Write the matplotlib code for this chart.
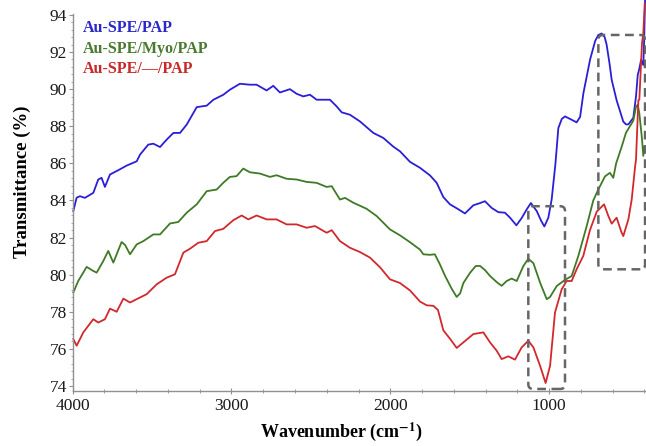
import matplotlib
matplotlib.use("Agg")
import matplotlib.pyplot as plt
import matplotlib.patches as mpatches
from matplotlib.ticker import MultipleLocator

plt.rcParams["font.family"] = ["Liberation Serif", "DejaVu Serif"]
plt.rcParams["mathtext.fontset"] = "stix"

# --- data (wavenumber cm-1, transmittance %) ---
blue_wn = [3996, 3975, 3954, 3923, 3870, 3839, 3818, 3797, 3765, 3713, 3660, 3597, 3576,
           3524, 3492, 3450, 3408, 3366, 3324, 3282, 3219, 3156, 3114, 3051, 3010, 2947,
           2884, 2842, 2779, 2737, 2695, 2632, 2590, 2548, 2506, 2464, 2380, 2338, 2306,
           2254, 2191, 2107, 2044, 1981, 1939, 1876, 1813, 1750, 1708, 1666, 1624, 1582,
           1530, 1477, 1435, 1404, 1362, 1320, 1278, 1246, 1206, 1173, 1141, 1115, 1078,
           1050, 1030, 1005, 984, 960, 942, 920, 900, 858, 827, 805, 784, 742, 710, 690,
           669, 650, 638, 620, 606, 575, 533, 516, 501, 470, 453, 442, 432, 421, 407, 402, 396]
blue_t = [83.43, 84.15, 84.23, 84.14, 84.41, 85.13, 85.22, 84.73, 85.40, 85.63, 85.88, 86.11, 86.47,
          87.01, 87.06, 86.88, 87.28, 87.64, 87.64, 88.09, 89.03, 89.11, 89.43, 89.70, 89.97, 90.29,
          90.24, 90.24, 89.93, 90.18, 89.82, 90.00, 89.75, 89.61, 89.70, 89.43, 89.43, 89.07, 88.75,
          88.62, 88.26, 87.64, 87.37, 86.90, 86.65, 86.08, 85.76, 85.35, 84.95, 84.18, 83.79, 83.58,
          83.30, 83.74, 83.86, 83.96, 83.60, 83.37, 83.34, 83.07, 82.66, 83.05, 83.52, 83.86, 83.43,
          82.90, 82.60, 83.07, 84.05, 86.00, 87.90, 88.40, 88.53, 88.35, 88.21, 88.50, 89.79, 91.60, 92.60, 92.92,
          93.00, 92.80, 92.40, 91.40, 90.50, 89.40, 88.25, 88.10, 88.10, 88.45, 89.60, 90.77, 91.10, 91.58, 91.30, 92.50, 94.80]

green_wn = [3996, 3965, 3912, 3870, 3849, 3807, 3776, 3744, 3692, 3670, 3639, 3597, 3555,
            3492, 3450, 3387, 3335, 3282, 3219, 3156, 3093, 3052, 3010, 2968, 2926, 2884,
            2821, 2758, 2716, 2653, 2590, 2527, 2464, 2401, 2369, 2317, 2285, 2233, 2149,
            2086, 2002, 1939, 1876, 1813, 1792, 1750, 1720, 1690, 1656, 1614, 1582, 1560,
            1540, 1498, 1462, 1435, 1404, 1372, 1330, 1299, 1267, 1236, 1204, 1162, 1131,
            1099, 1057, 1015, 994, 952, 900, 858, 816, 764, 722, 690, 648, 617, 596, 578,
            543, 516, 470, 453, 442, 432, 415, 407, 400]
green_t = [79.04, 79.66, 80.42, 80.20, 80.11, 80.74, 81.28, 80.65, 81.76, 81.60, 81.10, 81.63, 81.81,
           82.17, 82.17, 82.76, 82.84, 83.34, 83.79, 84.50, 84.59, 84.95, 85.27, 85.31, 85.72, 85.52,
           85.45, 85.27, 85.36, 85.17, 85.13, 85.00, 84.95, 84.73, 84.77, 84.05, 84.14, 83.88, 83.55,
           83.16, 82.44, 82.12, 81.75, 81.35, 81.10, 81.07, 81.10, 80.60, 79.95, 79.25, 78.80, 79.00,
           79.55, 80.10, 80.47, 80.47, 80.25, 79.93, 79.60, 79.40, 79.66, 79.79, 79.66, 80.47, 80.86,
           80.62, 79.57, 78.68, 78.80, 79.39, 79.72, 79.93, 81.01, 82.60, 84.00, 84.60, 85.30, 85.49, 85.22, 86.00,
           86.90, 87.65, 88.30, 89.05, 89.16, 88.70, 87.30, 86.40, 86.90]

red_wn = [3996, 3975, 3933, 3870, 3839, 3797, 3765, 3723, 3681, 3639, 3597, 3534, 3471,
          3408, 3356, 3303, 3261, 3209, 3156, 3104, 3052, 2988, 2936, 2894, 2842, 2779,
          2716, 2653, 2590, 2527, 2474, 2401, 2369, 2317, 2254, 2191, 2128, 2065, 2002,
          1939, 1876, 1813, 1771, 1729, 1700, 1666, 1620, 1582, 1540, 1477, 1414, 1372,
          1330, 1299, 1257, 1215, 1173, 1131, 1099, 1057, 1022, 994, 963, 921, 890, 858,
          827, 785, 743, 700, 654, 627, 606, 575, 545, 533, 501, 480, 459, 453, 438, 432,
          415, 407, 398]
red_t = [76.53, 76.17, 76.89, 77.60, 77.42, 77.60, 78.17, 78.00, 78.71, 78.50, 78.68, 78.95, 79.48,
         79.84, 80.02, 81.19, 81.40, 81.72, 81.81, 82.35, 82.47, 82.94, 83.19, 82.98, 83.19, 82.98,
         82.98, 82.71, 82.71, 82.53, 82.62, 82.26, 82.40, 81.81, 81.45, 81.22, 80.92, 80.40, 79.75,
         79.55, 79.15, 78.55, 78.35, 78.32, 78.10, 77.00, 76.50, 76.05, 76.35, 76.80, 76.89, 76.35,
         75.90, 75.45, 75.60, 75.42, 76.08, 76.44, 76.08, 75.09, 74.16, 75.09, 77.96, 79.21, 79.66, 79.66,
         80.29, 81.01, 82.40, 83.40, 83.79, 83.16, 82.75, 83.07, 82.30, 82.08, 82.98, 84.05, 85.80, 86.20, 89.40, 89.43,
         92.50, 93.00, 94.60]

labels = ["Au-SPE/PAP", "Au-SPE/Myo/PAP", "Au-SPE/\u2014/PAP"]
line_colors = ["#2a1fd6", "#3f7a27", "#d2282d"]
text_colors = ["#2a28c8", "#4a7a30", "#c82828"]

# highlighted regions: (wn_low, wn_high, t_low, t_high)
boxes = [(900, 1131, 73.84, 83.69), (396, 690, 80.29, 92.92)]

fig = plt.figure(figsize=(6.46, 4.46), dpi=100)
ax = fig.add_axes([0.1125, 0.1233, 0.8875, 0.8453])

for wn, t, c in zip([blue_wn, green_wn, red_wn], [blue_t, green_t, red_t], line_colors):
    ax.plot(wn, t, color=c, lw=1.3, clip_on=False, solid_joinstyle="round")

ax.set_xlim(4000, 390)
ax.set_ylim(73.73, 94.05)

# dashed rounded boxes; mutation_aspect converts x-rounding into y units
asp = (1 / 18.6) / 6.297
for x0, x1, y0, y1 in boxes:
    ax.add_patch(mpatches.FancyBboxPatch(
        (x0, y0), x1 - x0, y1 - y0,
        boxstyle="round,pad=0,rounding_size=30", mutation_aspect=asp,
        fill=False, edgecolor="#666666", lw=1.8, linestyle=(0, (3.5, 2.2)),
        clip_on=False, zorder=5))

for i, (lab, c) in enumerate(zip(labels, text_colors)):
    ax.text(0.0174, 0.963 - i * 0.0545, lab, transform=ax.transAxes, color=c,
            fontsize=11.5, fontweight="bold", va="center", ha="left")

for side in ["top", "right"]:
    ax.spines[side].set_visible(False)
for side in ["left", "bottom"]:
    ax.spines[side].set_color("#909090")
    ax.spines[side].set_linewidth(1.0)

ax.set_xticks([4000, 3000, 2000, 1000])
ax.xaxis.set_minor_locator(MultipleLocator(200))
ax.set_yticks(range(74, 95, 2))
ax.yaxis.set_minor_locator(MultipleLocator(0.4))
ax.tick_params(axis="both", which="major", labelsize=12.5, color="#909090",
               labelcolor="#1a1a1a", length=3, width=0.8)
ax.tick_params(axis="x", which="major", direction="inout", length=4, pad=3)
ax.tick_params(axis="x", which="minor", direction="inout", length=3, color="#909090")
ax.tick_params(axis="y", which="major", direction="out", length=3, pad=1)
ax.tick_params(axis="y", which="minor", direction="out", length=1.5, color="#a0a0a0")

fig.text(22 / 646, 1 - 182 / 446, "Transmittance (%)", rotation=90, fontsize=13.5,
         fontweight="bold", ha="center", va="center")
fig.text(341 / 646, 1 - 432 / 446, r"Wavenumber (cm$^{\mathbf{-1}}$)", fontsize=13,
         fontweight="bold", ha="center", va="center")

fig.savefig("out.png", dpi=100)
